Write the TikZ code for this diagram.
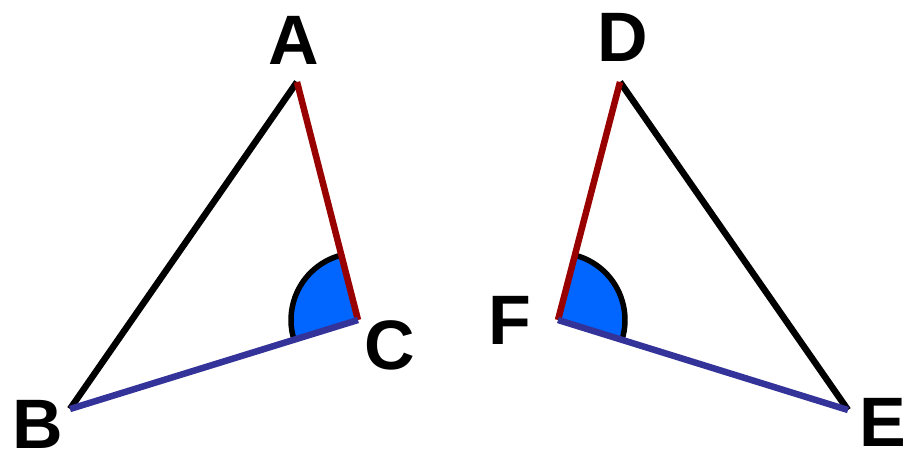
\documentclass[tikz,border=0pt]{standalone}
\usepackage{fontspec}
\setmainfont{Liberation Sans}
\usetikzlibrary{calc}
\definecolor{redline}{RGB}{153,0,0}
\definecolor{blueline}{RGB}{51,51,153}
\definecolor{anglefill}{RGB}{0,102,255}
\tikzset{
  side/.style={line width=6.5pt},
  lbl/.style={font=\fontsize{70}{70}\selectfont\bfseries, inner sep=0pt, anchor=center},
  angfill/.style={fill=anglefill},
  angarc/.style={line width=5.5pt, draw=black}
}
\begin{document}
\begin{tikzpicture}[x=1pt,y=1pt]
\useasboundingbox (0,0) rectangle (906,457);
% vertices
\coordinate (A) at (297,375);
\coordinate (B) at (70,48);
\coordinate (C) at (358,137);
\coordinate (D) at (620,375);
\coordinate (E) at (848,47);
\coordinate (F) at (558,137);
% angle at C
\fill[angfill] (C) -- ++(104.4:67) arc[start angle=104.4,end angle=197.2,radius=67] -- cycle;
\draw[angarc] ($(C)+(104.4:67)$) arc[start angle=104.4,end angle=197.2,radius=67];
% angle at F
\fill[angfill] (F) -- ++(-17.2:67) arc[start angle=-17.2,end angle=75.4,radius=67] -- cycle;
\draw[angarc] ($(F)+(-17.2:67)$) arc[start angle=-17.2,end angle=75.4,radius=67];
% triangle ABC
\draw[side, black] (A) -- (B);
\draw[side, redline] (A) -- (C);
\draw[side, blueline] (B) -- (C);
% triangle DEF
\draw[side, black] (D) -- (E);
\draw[side, redline] (D) -- (F);
\draw[side, blueline] (F) -- (E);
% labels
\node[lbl] (lA) at (294,417) {A};
\node[lbl] (lB) at (38,33) {B};
\node[lbl] (lC) at (390,112) {C};
\node[lbl] (lD) at (623,420) {D};
\node[lbl] (lE) at (883,35) {E};
\node[lbl] (lF) at (510,137) {F};
\end{tikzpicture}
\end{document}
